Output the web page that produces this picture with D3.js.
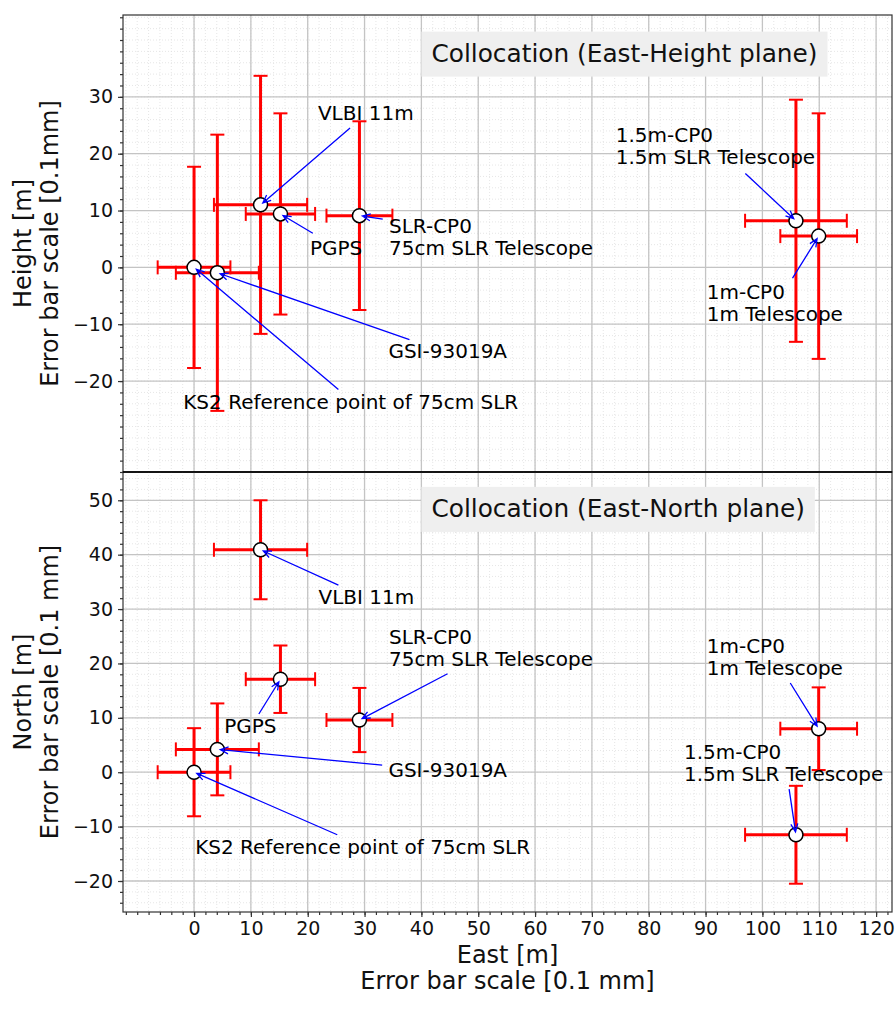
<!DOCTYPE html>
<html>
<head>
<meta charset="utf-8">
<script src="https://cdn.jsdelivr.net/npm/d3@7"></script>
<style>
  body { margin: 0; background: #fff; }
  text { font-family: "DejaVu Sans", sans-serif; }
</style>
</head>
<body>
<svg id="chart" width="896" height="1015"></svg>
<script>
// stations, same order in every array
const stations = ["KS2", "GSI-93019A", "VLBI 11m", "PGPS", "SLR-CP0", "1.5m-CP0", "1m-CP0"];
const labels = [
    "KS2 Reference point of 75cm SLR",
    "GSI-93019A",
    "VLBI 11m",
    "PGPS",
    "SLR-CP0\n75cm SLR Telescope",
    "1.5m-CP0\n1.5m SLR Telescope",
    "1m-CP0\n1m Telescope"
];
const east = [0, 4.1, 11.7, 15.2, 29.1, 105.9, 109.9];
const height = [0, -0.95, 11.0, 9.4, 9.1, 8.2, 5.5];
const north = [0, 4.2, 40.9, 17.1, 9.6, -11.5, 8.0];
// error bars [0.1 mm]
const eastErr = [6.4, 7.3, 8.2, 6.1, 5.8, 8.95, 6.75];
const heightErr = [17.7, 24.3, 22.7, 17.7, 16.6, 21.3, 21.6];
const northErr = [8.1, 8.45, 9.1, 6.2, 5.9, 9.0, 7.6];

// annotation text (first baseline) and arrow start, data units
const heightTextX = [-1.9, 34.2, 21.8, 20.4, 34.3, 74.2, 90.2];
const heightTextY = [-24.9, -16.0, 25.9, 2.2, 6.1, 22.1, -5.6];
const heightArrowX = [25.4, 37.9, 27.45, 20.9, 33.2, 97.0, 105.3];
const heightArrowY = [-21.5, -12.7, 24.5, 6.0, 8.5, 16.5, -1.9];
const northTextX = [0.2, 34.2, 21.9, 5.3, 34.3, 86.2, 90.2];
const northTextY = [-15.1, -0.8, 30.9, 7.2, 23.5, 2.5, 22.0];
const northArrowX = [25.2, 33.1, 25.4, 11.4, 44.6, 104.7, 104.9];
const northArrowY = [-11.5, 1.3, 34.4, 10.7, 18.1, -3.1, 16.4];

const eastTicks = d3.range(0, 121, 10);
const heightTicks = [-20, -10, 0, 10, 20, 30];
const northTicks = [-20, -10, 0, 10, 20, 30, 40, 50];

const svg = d3.select("#chart");
const left = 123, right = 892;
const x = d3.scaleLinear().domain([-12.5, 122.8]).range([left, right]);
const xMinor = d3.range(-12, 123, 2);

const panels = [
    {
        top: 15, bottom: 472, domain: [-36, 44.4],
        ticks: heightTicks, minor: d3.range(-36, 45, 2),
        vals: height, errs: heightErr,
        tx: heightTextX, ty: heightTextY, ax: heightArrowX, ay: heightArrowY,
        title: "Collocation (East-Height plane)",
        label: ["Height [m]", "Error bar scale [0.1mm]"]
    },
    {
        top: 472, bottom: 912, domain: [-25.7, 55.2],
        ticks: northTicks, minor: d3.range(-24, 56, 2),
        vals: north, errs: northErr,
        tx: northTextX, ty: northTextY, ax: northArrowX, ay: northArrowY,
        title: "Collocation (East-North plane)",
        label: ["North [m]", "Error bar scale [0.1 mm]"]
    }
];

panels.forEach((p, pi) => {
    const y = d3.scaleLinear().domain(p.domain).range([p.bottom, p.top]);
    const g = svg.append("g");

    // minor grid (dotted)
    g.selectAll(".mgx").data(xMinor).join("line")
        .attr("x1", d => x(d)).attr("x2", d => x(d))
        .attr("y1", p.top).attr("y2", p.bottom)
        .attr("stroke", "#e0e0e0").attr("stroke-width", 0.8).attr("stroke-dasharray", "1,2");
    g.selectAll(".mgy").data(p.minor).join("line")
        .attr("x1", left).attr("x2", right)
        .attr("y1", d => y(d)).attr("y2", d => y(d))
        .attr("stroke", "#e0e0e0").attr("stroke-width", 0.8).attr("stroke-dasharray", "1,2");

    // major grid
    g.selectAll(".gx").data(eastTicks).join("line")
        .attr("x1", d => x(d)).attr("x2", d => x(d))
        .attr("y1", p.top).attr("y2", p.bottom)
        .attr("stroke", "#c4c4c4").attr("stroke-width", 1.3);
    g.selectAll(".gy").data(p.ticks).join("line")
        .attr("x1", left).attr("x2", right)
        .attr("y1", d => y(d)).attr("y2", d => y(d))
        .attr("stroke", "#c4c4c4").attr("stroke-width", 1.3);

    // title box
    const base = p.top + (p.bottom - p.top) * 0.102;
    const tBox = g.append("rect").attr("fill", "#efefef");
    const tText = g.append("text")
        .attr("x", x(40) + 10).attr("y", base)
        .attr("font-size", 24.8).attr("fill", "#111")
        .text(p.title);
    const tw = tText.node().getComputedTextLength();
    tBox.attr("x", x(40)).attr("y", base - 30).attr("width", tw + 20).attr("height", 45);

    // error bars
    const cap = 7;
    const bars = g.selectAll(".bar").data(stations).join("g");
    bars.append("line")
        .attr("x1", (d, i) => x(east[i] - eastErr[i])).attr("x2", (d, i) => x(east[i] + eastErr[i]))
        .attr("y1", (d, i) => y(p.vals[i])).attr("y2", (d, i) => y(p.vals[i]))
        .attr("stroke", "red").attr("stroke-width", 3);
    bars.append("line")
        .attr("x1", (d, i) => x(east[i])).attr("x2", (d, i) => x(east[i]))
        .attr("y1", (d, i) => y(p.vals[i] - p.errs[i])).attr("y2", (d, i) => y(p.vals[i] + p.errs[i]))
        .attr("stroke", "red").attr("stroke-width", 3);
    [-1, 1].forEach(s => {
        bars.append("line")
            .attr("x1", (d, i) => x(east[i] + s * eastErr[i])).attr("x2", (d, i) => x(east[i] + s * eastErr[i]))
            .attr("y1", (d, i) => y(p.vals[i]) - cap).attr("y2", (d, i) => y(p.vals[i]) + cap)
            .attr("stroke", "red").attr("stroke-width", 2);
        bars.append("line")
            .attr("x1", (d, i) => x(east[i]) - cap).attr("x2", (d, i) => x(east[i]) + cap)
            .attr("y1", (d, i) => y(p.vals[i] + s * p.errs[i])).attr("y2", (d, i) => y(p.vals[i] + s * p.errs[i]))
            .attr("stroke", "red").attr("stroke-width", 2);
    });

    // markers
    g.selectAll(".pt").data(stations).join("circle")
        .attr("cx", (d, i) => x(east[i]))
        .attr("cy", (d, i) => y(p.vals[i]))
        .attr("r", 7)
        .attr("fill", "white").attr("stroke", "black").attr("stroke-width", 1.5);

    // annotations
    stations.forEach((s, i) => {
        const lines = labels[i].split("\n");
        const t = g.append("text")
            .attr("x", x(p.tx[i])).attr("y", y(p.ty[i]))
            .attr("font-size", 20).attr("fill", "black");
        lines.forEach((l, k) => {
            t.append("tspan").attr("x", x(p.tx[i])).attr("dy", k === 0 ? 0 : 22).text(l);
        });

        const x0 = x(p.ax[i]), y0 = y(p.ay[i]);
        let x1 = x(east[i]), y1 = y(p.vals[i]);
        const len = Math.hypot(x1 - x0, y1 - y0);
        const ux = (x1 - x0) / len, uy = (y1 - y0) / len;
        x1 -= ux * 3; y1 -= uy * 3;
        const hl = 8, hw = 3.5;
        const bx = x1 - ux * hl, by = y1 - uy * hl;
        const path = d3.path();
        path.moveTo(x0, y0); path.lineTo(x1, y1);
        path.moveTo(bx - uy * hw, by + ux * hw); path.lineTo(x1, y1); path.lineTo(bx + uy * hw, by - ux * hw);
        g.append("path").attr("d", path.toString())
            .attr("fill", "none").attr("stroke", "blue").attr("stroke-width", 1.3);
    });

    // axes
    const yMinorAxis = g.append("g").attr("transform", `translate(${left},0)`)
        .call(d3.axisLeft(y).tickValues(p.minor).tickSize(3).tickFormat(""));
    const yAxis = g.append("g").attr("transform", `translate(${left},0)`)
        .call(d3.axisLeft(y).tickValues(p.ticks).tickSize(5).tickPadding(5).tickFormat(d3.format("d")));
    [yMinorAxis, yAxis].forEach(a => {
        a.select(".domain").remove();
        a.selectAll("line").attr("stroke", "#333").attr("stroke-width", 1.2);
    });
    yAxis.selectAll("text").attr("font-size", 19).attr("fill", "#111").attr("font-family", "DejaVu Sans");

    if (pi === 1) {
        const xMinorAxis = g.append("g").attr("transform", `translate(0,${p.bottom})`)
            .call(d3.axisBottom(x).tickValues(xMinor).tickSize(3).tickFormat(""));
        const xAxis = g.append("g").attr("transform", `translate(0,${p.bottom})`)
            .call(d3.axisBottom(x).tickValues(eastTicks).tickSize(5).tickPadding(5).tickFormat(d3.format("d")));
        [xMinorAxis, xAxis].forEach(a => {
            a.select(".domain").remove();
            a.selectAll("line").attr("stroke", "#333").attr("stroke-width", 1.2);
        });
        xAxis.selectAll("text").attr("font-size", 19).attr("fill", "#111").attr("font-family", "DejaVu Sans");
    }

    // frame
    g.append("rect")
        .attr("x", left).attr("y", p.top)
        .attr("width", right - left).attr("height", p.bottom - p.top)
        .attr("fill", "none").attr("stroke", "#333").attr("stroke-width", 1.2);

    // y label, two lines
    const cy = (p.top + p.bottom) / 2;
    p.label.forEach((l, k) => {
        svg.append("text")
            .attr("transform", `translate(${31 + k * 27},${cy}) rotate(-90)`)
            .attr("text-anchor", "middle")
            .attr("font-size", 24).attr("fill", "#111")
            .text(l);
    });
});

// divider between panels
svg.append("line")
    .attr("x1", left).attr("x2", right)
    .attr("y1", 472).attr("y2", 472)
    .attr("stroke", "black").attr("stroke-width", 1.3);

// x label
const cx = (left + right) / 2;
["East [m]", "Error bar scale [0.1 mm]"].forEach((l, k) => {
    svg.append("text")
        .attr("x", cx).attr("y", 963 + k * 26)
        .attr("text-anchor", "middle")
        .attr("font-size", 24).attr("fill", "#111")
        .text(l);
});
</script>
</body>
</html>
